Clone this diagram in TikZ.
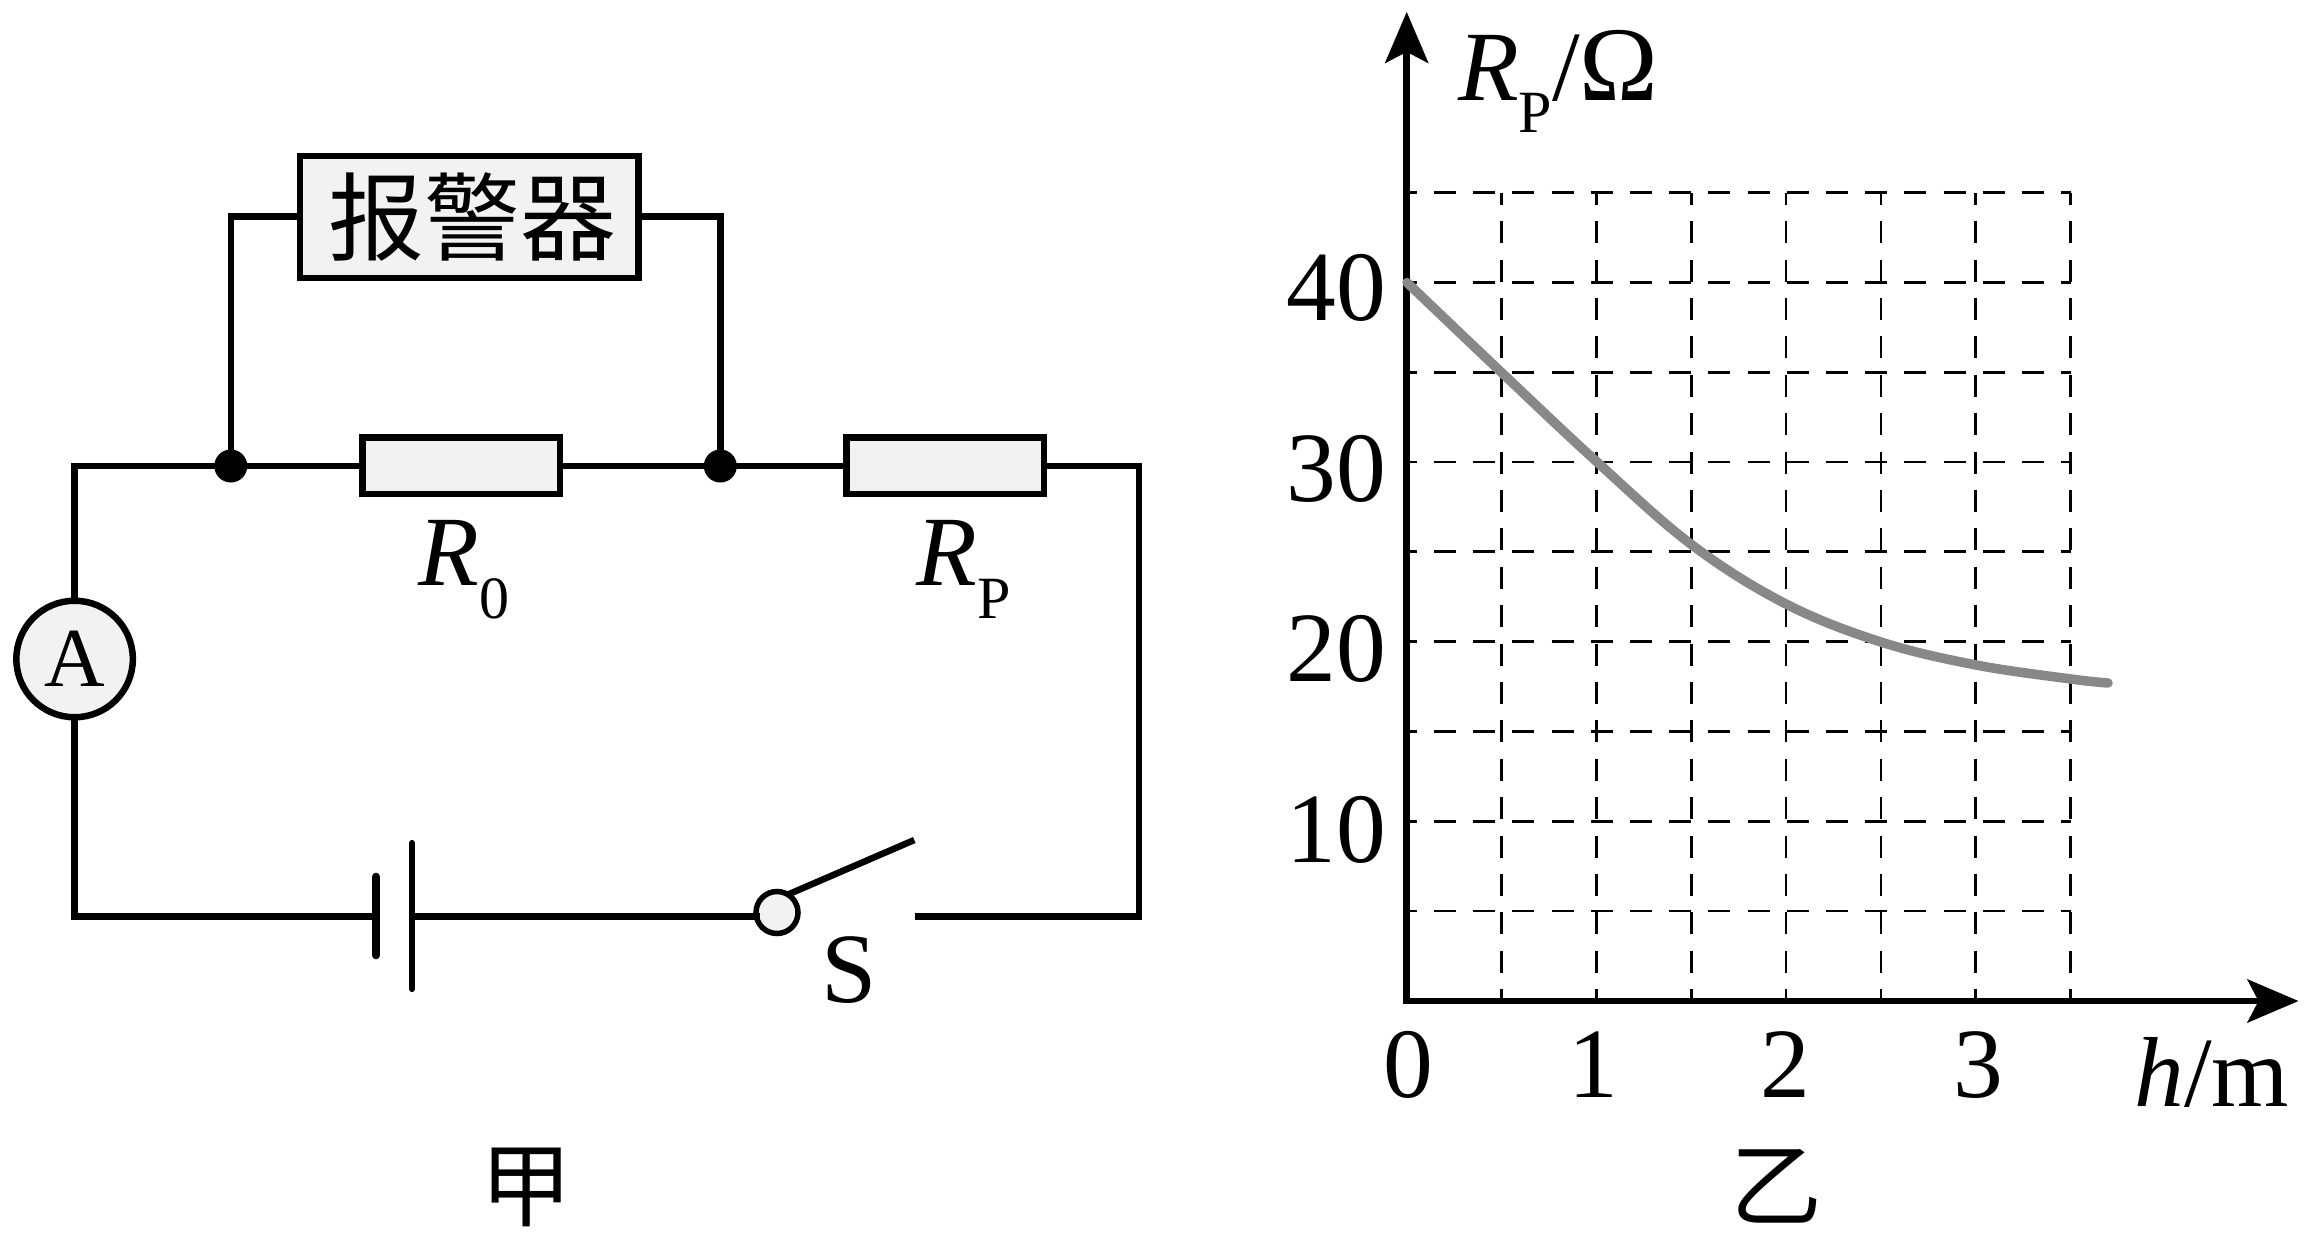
\documentclass[tikz,border=0pt]{standalone}
\usepackage{fontspec}
\setmainfont{Liberation Serif}
\newfontfamily\cjk{Noto Sans CJK SC}
\usetikzlibrary{arrows.meta}
\definecolor{boxfill}{HTML}{F2F2F2}
\definecolor{curvegray}{HTML}{888888}
\newcommand{\fs}[1]{\fontsize{#1}{#1}\selectfont}
\newcommand{\lowsub}[1]{\raisebox{-32pt}{\fs{60}#1}}
\tikzset{
  wire/.style={line width=6.5pt,line join=miter},
  part/.style={draw,line width=6.5pt,fill=boxfill,inner sep=0pt,outer sep=0pt,rectangle},
  dotjoin/.style={circle,fill=black,inner sep=0pt,outer sep=0pt,minimum size=33pt},
  lab/.style={inner sep=0pt,outer sep=0pt,font=\fs{99.5}},
  gridh/.style={line width=2.8pt,dash pattern=on 22pt off 17.2pt,dash phase=12pt},
  gridv/.style={line width=2.8pt,dash pattern=on 22pt off 16.4pt,dash phase=9.9pt},
  axisline/.style={line width=6.5pt,-{Stealth[length=51pt,width=43pt,inset=11pt]}},
  plate/.style={line cap=round},
}
\begin{document}
\begin{tikzpicture}[x=1pt,y=-1pt]
\useasboundingbox (0,0) rectangle (2309,1239);
% circuit
\node[part,minimum width=338.7pt,minimum height=121.8pt,font=\cjk\fs{96}] (alarm) at (469.1,216.9) {\hspace*{6pt}报警器};
\node[part,minimum width=197.5pt,minimum height=56.3pt] (rzero) at (461.1,465.7) {};
\node[part,minimum width=197.5pt,minimum height=56.3pt] (rp) at (945.1,465.7) {};
\node[part,circle,minimum size=116.5pt,font=\fs{84}] (amm) at (74.6,659) {\raisebox{-3pt}{A}};
\node[part,circle,line width=5.5pt,minimum size=42pt] (sw) at (777,912.5) {};
\node[dotjoin] (jl) at (230.8,466) {};
\node[dotjoin] (jr) at (720.3,466) {};
\coordinate (tl) at (230.8,216.4);
\coordinate (tr) at (720.3,216.4);
\coordinate (cnw) at (74.6,466);
\coordinate (cne) at (1139.2,466);
\coordinate (cse) at (1139.2,916.5);
\coordinate (csw) at (74.6,916.5);
\coordinate (contact) at (915.3,916.5);
\coordinate (bladeend) at (914.3,840);
\coordinate (batshort) at (376,916.5);
\coordinate (batlong) at (411.9,916.5);
\coordinate (swin) at (760,916.5);
\draw[wire] (alarm.west|-tl) -- (tl) -- (jl.center);
\draw[wire] (alarm.east|-tr) -- (tr) -- (jr.center);
\draw[wire] (amm.north) -- (cnw) -- (rzero.west|-cnw);
\draw[wire] (rzero.east|-cnw) -- (rp.west|-cnw);
\draw[wire] (rp.east|-cne) -- (cne) -- (cse) -- (contact);
\draw[wire] (amm.south) -- (csw) -- (batshort);
\draw[wire] (batlong) -- (swin);
\draw[line width=8pt,plate] (376,876.7) -- (batshort) -- (376,955.3);
\draw[line width=6pt,plate] (411.9,842.9) -- (batlong) -- (411.9,989.1);
\draw[line width=6.5pt] (sw.center) ++(11,-18) -- (bladeend);
\node[lab,anchor=base west] (rzerolab) at (418.8,585.6) {\textit{R}\raisebox{-33pt}{\fs{60}0}};
\node[lab,anchor=base west] (rplab) at (916.3,585.6) {\textit{R}\raisebox{-33pt}{\fs{60}P}};
\node[lab,anchor=base west] (slab) at (821,1002) {S};
\node[lab,font=\cjk\fs{92}] (jia) at (526.3,1187) {甲};
% graph
\foreach \yy in {192.6,282.4,372.2,462,551.8,641.6,731.4,821.2,911}
  \draw[gridh] (1406.7,\yy) -- (2070.7,\yy);
\foreach \xx in {1501.3,1596.2,1691.1,1786,1880.9,1975.8,2070.7}
  \draw[gridv] (\xx,192.6) -- (\xx,1001);
\coordinate (origin) at (1406.7,1001);
\coordinate (ytip) at (1406.7,11.9);
\coordinate (xtip) at (2298.5,1001);
\draw[axisline] (1406.7,1004) -- (ytip);
\draw[axisline] (1403.7,1001) -- (xtip);
\draw[curvegray,line width=9.5pt,line cap=round] plot[smooth,tension=0.6] coordinates
  {(1407,282.5) (1501,372) (1597,462) (1692,545) (1786,604) (1881,642) (1976,665) (2071,679) (2108,683)};
\node[lab,anchor=base east] (ylab40) at (1386.3,320.4) {40};
\node[lab,anchor=base east] (ylab30) at (1386.3,501.4) {30};
\node[lab,anchor=base east] (ylab20) at (1386.3,681.7) {20};
\node[lab,anchor=base east] (ylab10) at (1386.3,862.8) {10};
\node[lab,anchor=base] (xlab0) at (1408.7,1097.5) {0};
\node[lab,anchor=base] (xlab1) at (1593,1097.5) {1};
\node[lab,anchor=base] (xlab2) at (1785,1097.5) {2};
\node[lab,anchor=base] (xlab3) at (1978,1097.5) {3};
\node[lab,anchor=base west] (hlab) at (2134.5,1106.5) {\textit{h}/m};
\node[lab,anchor=base west] (rplabel) at (1458,100.5) {\textit{R}\lowsub{P}/{\fs{106}Ω}};
\node[lab,font=\cjk\fs{92}] (yi) at (1776,1186) {乙};
\end{tikzpicture}
\end{document}
